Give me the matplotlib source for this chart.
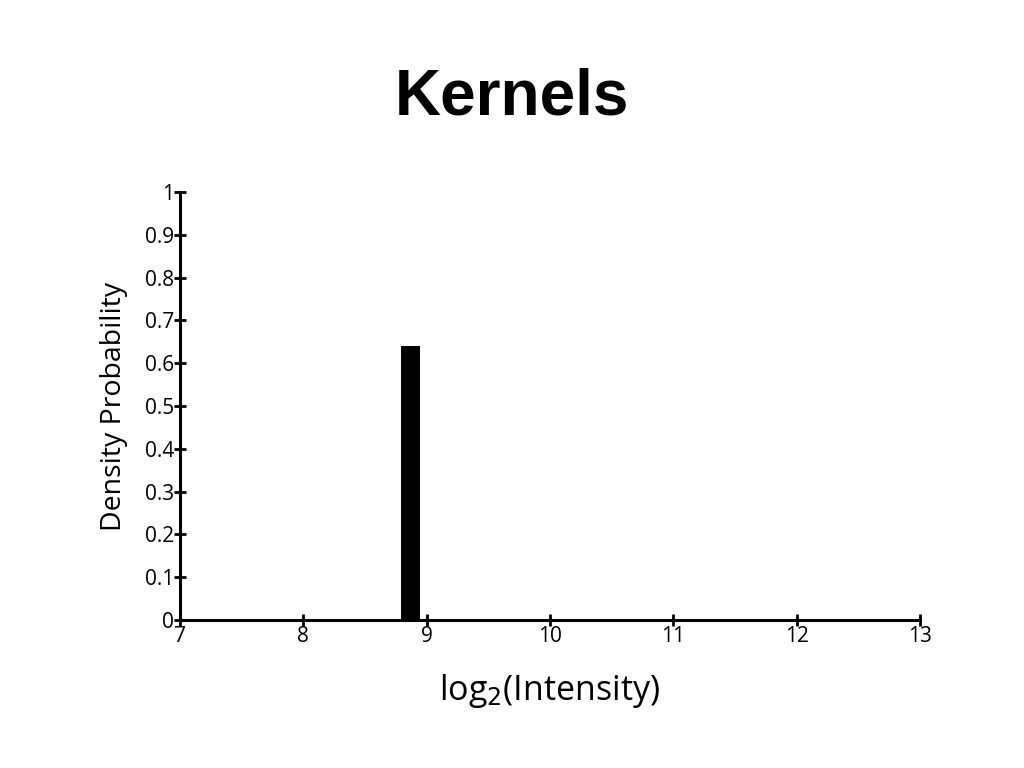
import matplotlib
matplotlib.use("Agg")
import matplotlib.pyplot as plt

# histogram bin
bin_centers = [8.87]
bin_heights = [0.64]
bin_width = 0.15

x_ticks = [7, 8, 9, 10, 11, 12, 13]
y_ticks = [0, 0.1, 0.2, 0.3, 0.4, 0.5, 0.6, 0.7, 0.8, 0.9, 1]
y_tick_labels = ["0", "0.1", "0.2", "0.3", "0.4", "0.5", "0.6", "0.7", "0.8", "0.9", "1"]


def main():
    plt.rcParams['font.family'] = ['Open Sans', 'DejaVu Sans']

    fig = plt.figure(figsize=(10.24, 7.68), dpi=100)
    ax = fig.add_axes([180 / 1024, 148 / 768, 740 / 1024, 428 / 768])

    ax.bar(bin_centers, bin_heights, width=bin_width, color='black', zorder=1)

    ax.set_xlim(7, 13)
    ax.set_ylim(0, 1)
    ax.set_xticks(x_ticks)
    ax.set_yticks(y_ticks)
    ax.set_yticklabels(y_tick_labels)

    for side in ['top', 'right']:
        ax.spines[side].set_visible(False)
    for side in ['left', 'bottom']:
        ax.spines[side].set_linewidth(2.2)
        ax.spines[side].set_zorder(3)

    ax.tick_params(direction='inout', length=9, width=2, labelsize=15, pad=0)

    ax.set_ylabel("Density Probability", fontsize=20.5, labelpad=12)
    ax.set_xlabel(r"log$_2$(Intensity)", fontsize=24.5, labelpad=18)

    fig.text(0.5, 0.873, "Kernels", ha='center', va='center', fontsize=46,
             fontweight='bold', family='Liberation Sans')

    fig.savefig("out.png", dpi=100)


if __name__ == "__main__":
    main()
